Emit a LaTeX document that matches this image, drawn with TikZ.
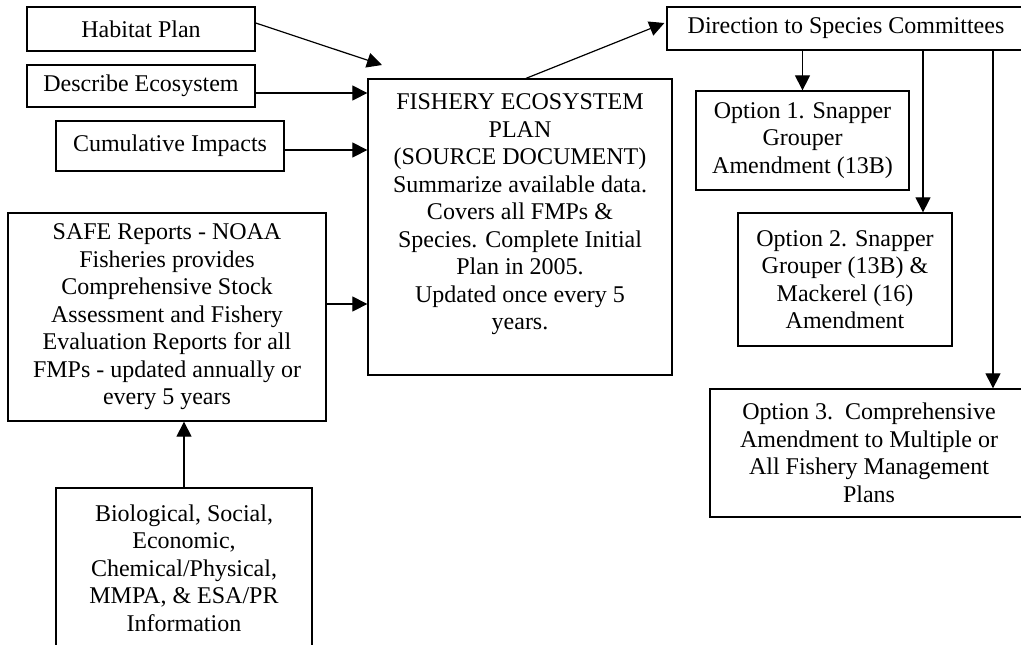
\documentclass[tikz,border=0pt]{standalone}
\usepackage{fontspec}
\setmainfont{Liberation Serif}
\usetikzlibrary{arrows.meta}
\tikzset{
  box/.style={draw, line width=0.65pt, inner sep=0pt, align=center,
    font=\fontsize{12}{13.75}\selectfont},
  arr/.style={draw, line width=0.6pt, -{Triangle[length=7.5pt,width=7.5pt]}}
}
\begin{document}
\begin{tikzpicture}[x=0.5pt,y=-0.5pt]
\useasboundingbox (0,0) rectangle (1021,644);
\clip (0,0) rectangle (1021,644);
% nodes
\node[box, minimum width=114pt, minimum height=22pt] (hab) at (141,29) {Habitat Plan};
\node[box, minimum width=114pt, minimum height=21pt] (desc) at (141,86) {Describe Ecosystem};
\node[box, minimum width=114pt, minimum height=25pt] (cum) at (170,146) {Cumulative Impacts};
\node[box] (fep) at (520,227) {\parbox[c][148pt][t]{152pt}{\centering\vspace*{7.5pt}%
FISHERY ECOSYSTEM\\ PLAN\\ (SOURCE DOCUMENT)\\ Summarize available data.\\ Covers all FMPs \&\\ Species. Complete Initial\\ Plan in 2005.\\ Updated once every 5\\ years.}};
\node[box, minimum width=179pt, minimum height=21.5pt] (dir) at (846,28.5) {Direction to Species Committees};
\node[box, minimum width=106.5pt, minimum height=49.5pt] (opt1) at (802.5,140.5) {Option 1. Snapper\\ Grouper\\ Amendment (13B)};
\node[box, minimum width=107pt, minimum height=66.5pt] (opt2) at (845,279.5) {Option 2. Snapper\\ Grouper (13B) \&\\ Mackerel (16)\\ Amendment};
\node[box, minimum width=159pt, minimum height=64pt] (opt3) at (869,453) {Option 3.\ \ Comprehensive\\ Amendment to Multiple or\\ All Fishery Management\\ Plans};
\node[box, minimum width=159pt, minimum height=104pt] (safe) at (167,317) {SAFE Reports - NOAA\\ Fisheries provides\\ Comprehensive Stock\\ Assessment and Fishery\\ Evaluation Reports for all\\ FMPs - updated annually or\\ every 5 years};
\node[box, minimum width=128pt, minimum height=80pt] (bio) at (184,568) {Biological, Social,\\ Economic,\\ Chemical/Physical,\\ MMPA, \& ESA/PR\\ Information};
% free ends / guide coordinates
\coordinate (habtip) at (382,65);
\coordinate (c2) at (923,0);
\coordinate (c3) at (993,0);
% connectors
\draw[arr] ([yshift=3pt]hab.east) -- (habtip);
\draw[arr] ([yshift=-3.5pt]desc.east) -- ([yshift=-3.5pt]desc.east -| fep.west);
\draw[arr] ([yshift=-2pt]cum.east) -- ([yshift=-2pt]cum.east -| fep.west);
\draw[arr] ([yshift=6.5pt]safe.east) -- ([yshift=6.5pt]safe.east -| fep.west);
\draw[arr] (bio.north) -- (bio.north |- safe.south);
\draw[arr] ([xshift=3pt]fep.north) -- ([xshift=-1pt,yshift=2.75pt]dir.west);
\draw[arr] (dir.south -| opt1.north) -- (opt1.north);
\draw[arr] (dir.south -| c2) -- (opt2.north -| c2);
\draw[arr] (dir.south -| c3) -- (opt3.north -| c3);
\end{tikzpicture}
\end{document}
